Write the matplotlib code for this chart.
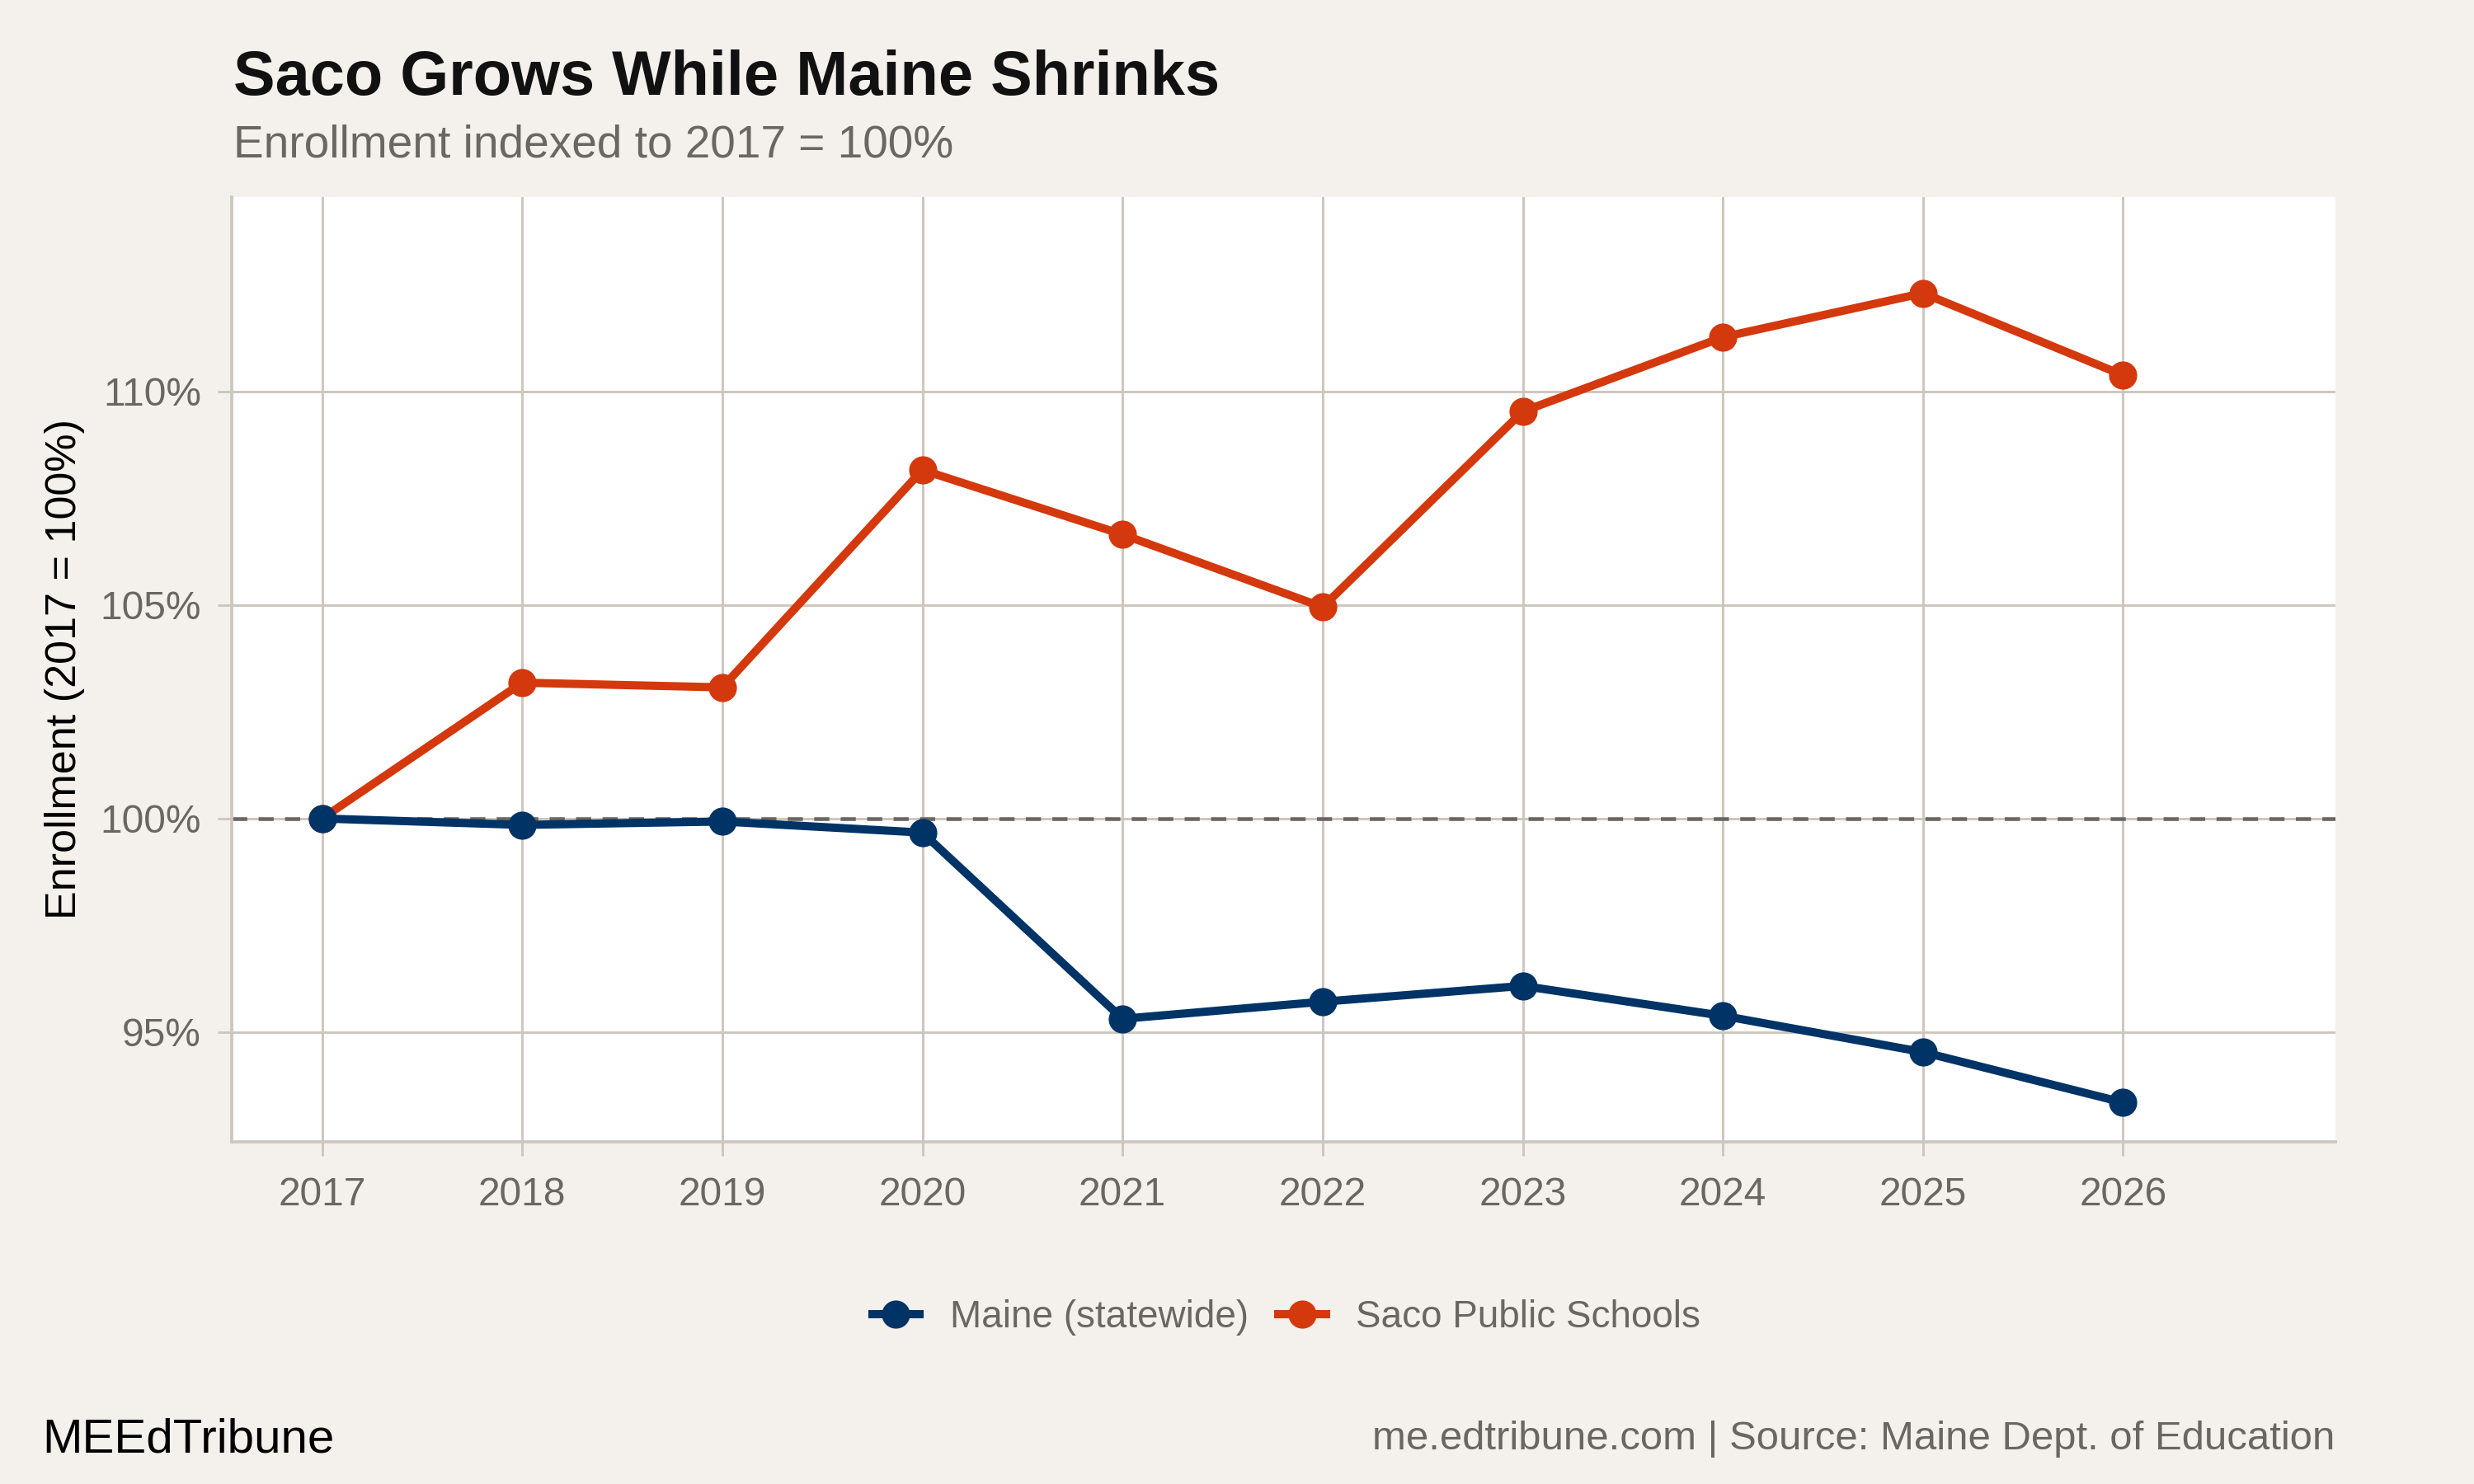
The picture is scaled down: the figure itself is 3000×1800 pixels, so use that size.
import matplotlib
matplotlib.use("Agg")
import matplotlib.pyplot as plt
from matplotlib.ticker import FuncFormatter

# values (index, 2017 = 100)
years = [2017, 2018, 2019, 2020, 2021, 2022, 2023, 2024, 2025, 2026]
maine = [100.0, 99.85, 99.93, 99.67, 95.31, 95.71, 96.08, 95.38, 94.53, 93.35]
saco = [100.0, 103.18, 103.07, 108.16, 106.65, 104.95, 109.53, 111.27, 112.30, 110.38]
series_names = ["Maine (statewide)", "Saco Public Schools"]
yticks = [95, 100, 105, 110]

bg = "#F4F1EC"
grid_c = "#CCC6BE"
text_gray = "#6B6661"
navy = "#003366"
orange = "#D4380D"

plt.rcParams['font.family'] = ['Liberation Sans', 'DejaVu Sans']

fig = plt.figure(figsize=(10, 6), dpi=300, facecolor=bg)
ax = fig.add_axes([0.0938, 0.2306, 0.8501, 0.6366])
ax.set_facecolor("white")

ax.axhline(100, color=text_gray, lw=1.1, ls=(0, (4, 3)), zorder=2)
# navy drawn over orange (visible at 2017 in the reference)
ax.plot(years, maine, color=navy, lw=2.4, marker='o', ms=7.2, label=series_names[0], zorder=4)
ax.plot(years, saco, color=orange, lw=2.4, marker='o', ms=7.2, label=series_names[1], zorder=3)

ax.set_xlim(2016.55, 2027.06)
ax.set_ylim(92.43, 114.55)
ax.set_xticks(years)
ax.set_yticks(yticks)
ax.yaxis.set_major_formatter(FuncFormatter(lambda v, p: f"{v:.0f}%"))
ax.grid(True, color=grid_c, lw=0.7, zorder=0)
ax.set_axisbelow(True)

for s in ["top", "right"]:
    ax.spines[s].set_visible(False)
for s in ["left", "bottom"]:
    ax.spines[s].set_color(grid_c)
    ax.spines[s].set_linewidth(0.9)
ax.tick_params(axis='both', colors=grid_c, labelcolor=text_gray, labelsize=11.5, length=4, width=0.7)
ax.tick_params(axis='x', pad=6)
ax.tick_params(axis='y', pad=5)

ax.set_ylabel("Enrollment (2017 = 100%)", fontsize=12.5, color="black")
ax.yaxis.set_label_coords(-0.07, 0.5)

fig.text(0.0944, 0.936, "Saco Grows While Maine Shrinks", fontsize=18.2, fontweight='bold',
         color="#111111", va='baseline', ha='left')
fig.text(0.0944, 0.894, "Enrollment indexed to 2017 = 100%", fontsize=13.2, color=text_gray,
         va='baseline', ha='left')

leg = fig.legend(loc='center', bbox_to_anchor=(0.52, 0.112), ncol=2, frameon=False,
                 fontsize=11, handlelength=1.25, columnspacing=0.8, handletextpad=0.8)
for t in leg.get_texts():
    t.set_color(text_gray)

fig.text(0.017, 0.030, "MEEdTribune", fontsize=14, color="black", va='center', ha='left')
fig.text(0.9439, 0.030, "me.edtribune.com | Source: Maine Dept. of Education", fontsize=11.8,
         color=text_gray, va='center', ha='right')

fig.savefig("out.png", dpi=300, facecolor=bg)
